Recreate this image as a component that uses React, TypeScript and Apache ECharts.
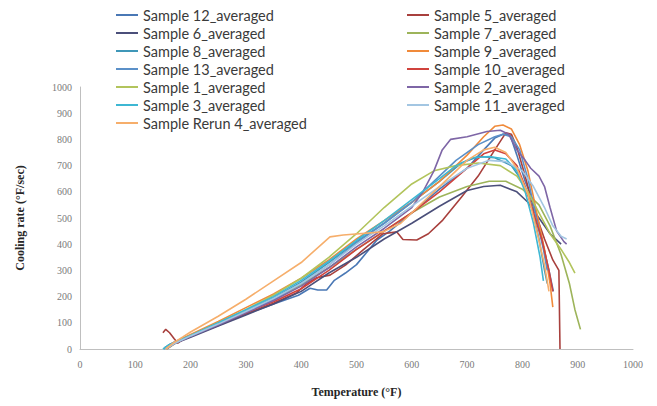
import React, { useEffect, useRef } from "react";
import * as echarts from "echarts";

const xTicks = [0, 100, 200, 300, 400, 500, 600, 700, 800, 900, 1000];
const yTicks = [0, 100, 200, 300, 400, 500, 600, 700, 800, 900, 1000];

const names = [
  "Sample 12_averaged", "Sample 5_averaged", "Sample 6_averaged", "Sample 7_averaged",
  "Sample 8_averaged", "Sample 9_averaged", "Sample 13_averaged", "Sample 10_averaged",
  "Sample 1_averaged", "Sample 2_averaged", "Sample 3_averaged", "Sample 11_averaged",
  "Sample Rerun 4_averaged",
];
const colors = [
  "#4A78B5", "#A8403D", "#4B4F7A", "#9DB45A", "#3F97B8", "#F08A3A", "#5B90C8",
  "#D0433D", "#B2C45C", "#7E66A6", "#3EB7D3", "#A3C6E2", "#F6AE6B",
];

const s12 = [[152,0],[160,15],[180,35],[200,52],[250,92],[300,133],[350,172],[395,205],[416,232],[430,225],[446,225],[460,262],[480,290],[500,322],[537,416],[560,450],[600,520],[650,610],[700,690],[730,760],[750,805],[765,820],[778,815],[790,740],[805,640],[820,560],[835,420],[848,300],[856,220]];
const s5 = [[150,62],[155,75],[162,62],[170,40],[177,22],[185,35],[200,50],[250,90],[300,135],[350,175],[392,215],[410,250],[428,272],[452,282],[480,320],[512,378],[548,440],[573,447],[584,418],[609,416],[630,440],[656,492],[690,580],[720,660],[750,760],[770,825],[780,820],[790,770],[805,660],[820,540],[840,420],[855,340],[866,300],[868,0]];
const s6 = [[155,5],[170,20],[200,45],[250,88],[300,130],[350,172],[400,220],[450,290],[500,350],[550,420],[600,480],[650,545],[700,605],[730,620],[760,625],[790,600],[810,560],[830,500],[850,440],[870,400]];
const s7 = [[157,0],[175,25],[200,50],[250,95],[300,142],[350,190],[400,245],[450,310],[500,380],[550,450],[600,520],[650,580],[700,620],[740,640],[770,640],[800,610],[830,550],[850,470],[870,360],[885,250],[895,150],[905,75]];
const s8 = [[153,5],[170,25],[200,52],[250,97],[300,145],[350,195],[400,255],[450,330],[500,410],[550,480],[600,560],[650,640],[690,710],[720,735],[750,730],[780,700],[800,640],[815,560],[830,420],[840,300],[845,250]];
const s9 = [[155,5],[170,25],[200,55],[250,105],[300,158],[350,210],[400,270],[450,340],[500,420],[550,490],[600,560],[650,640],[700,740],[730,810],[750,850],[765,855],[780,840],[795,780],[810,680],[825,530],[840,380],[850,250],[855,160]];
const s13 = [[152,0],[165,18],[200,50],[250,95],[300,142],[350,190],[400,250],[450,320],[500,405],[550,480],[600,560],[640,640],[680,720],[720,780],[750,810],[765,820],[780,810],[795,760],[810,650],[825,500],[838,380],[845,300]];
const s10 = [[156,0],[170,20],[200,50],[250,95],[300,140],[350,180],[400,230],[450,300],[500,380],[550,450],[600,520],[650,600],[700,690],[730,745],[750,760],[770,745],[790,700],[805,620],[820,520],[835,420],[848,300],[855,220]];
const s1 = [[155,0],[170,22],[200,52],[250,100],[300,150],[350,205],[400,270],[450,350],[500,440],[550,540],[600,630],[640,680],[680,700],[720,710],[760,700],[790,660],[810,600],[830,520],[850,440],[870,380],[885,330],[895,290]];
const s2 = [[155,0],[170,20],[200,48],[250,92],[300,138],[350,185],[400,240],[450,310],[500,390],[550,460],[600,540],[620,600],[640,680],[655,760],[670,800],[700,810],[736,830],[760,835],[775,820],[790,760],[805,720],[815,690],[830,660],[840,620],[850,540],[862,450],[875,410],[880,400]];
const s3 = [[150,0],[160,15],[200,52],[250,100],[300,150],[350,200],[400,262],[450,335],[500,415],[550,490],[600,570],[650,650],[680,700],[710,730],[740,735],[770,725],[790,680],[805,600],[820,480],[832,350],[838,260]];
const s11 = [[155,0],[170,20],[200,50],[250,95],[300,143],[350,193],[400,250],[450,320],[500,400],[550,470],[600,545],[650,620],[700,690],[740,720],[770,715],[800,680],[820,620],[840,540],[855,470],[870,430],[880,420]];
const s4r = [[155,0],[170,25],[186,46],[200,65],[250,125],[300,190],[350,260],[400,330],[452,428],[476,435],[548,447],[580,480],[620,560],[660,640],[700,720],[730,760],[750,770],[770,750],[790,690],[810,590],[825,460],[840,320],[848,220]];

const seriesData = [s12, s5, s6, s7, s8, s9, s13, s10, s1, s2, s3, s11, s4r];

const leftNames = [names[0], names[2], names[4], names[6], names[8], names[10], names[12]];
const rightNames = [names[1], names[3], names[5], names[7], names[9], names[11]];

export default function App() {
  const ref = useRef<HTMLDivElement>(null);
  useEffect(() => {
    const chart = echarts.init(ref.current!, undefined, { renderer: "svg" });
    const legendText = { fontFamily: "Lato", fontSize: 14.5, color: "#3a3a3a", lineHeight: 16 };
    chart.setOption({
      animation: false,
      backgroundColor: "#fff",
      color: colors,
      legend: [
        {
          data: leftNames, orient: "vertical", left: 116, top: 7, icon: "rect",
          itemWidth: 22, itemHeight: 2, itemGap: 2, textStyle: legendText, padding: 0,
          align: "left",
        },
        {
          data: rightNames, orient: "vertical", left: 407, top: 7, icon: "rect",
          itemWidth: 22, itemHeight: 2, itemGap: 2, textStyle: legendText, padding: 0,
          align: "left",
        },
      ],
      grid: { left: 80, right: 24, top: 87, bottom: 57, containLabel: false },
      xAxis: {
        type: "value", min: xTicks[0], max: xTicks[xTicks.length - 1], interval: 100,
        name: "Temperature (°F)", nameLocation: "middle", nameGap: 37,
        nameTextStyle: { fontFamily: "Liberation Serif", fontWeight: "bold", fontSize: 12, color: "#262626" },
        axisLine: { lineStyle: { color: "#BFBFBF" } },
        axisTick: { show: false },
        splitLine: { show: false },
        axisLabel: { fontFamily: "Liberation Serif", fontSize: 10, color: "#7a7a7a", margin: 10, formatter: (v: number) => String(v) },
      },
      yAxis: {
        type: "value", min: yTicks[0], max: yTicks[yTicks.length - 1], interval: 100,
        name: "Cooling rate (°F/sec)", nameLocation: "middle", nameGap: 54, nameRotate: 90,
        nameTextStyle: { fontFamily: "Liberation Serif", fontWeight: "bold", fontSize: 12, color: "#262626" },
        axisLine: { show: true, lineStyle: { color: "#BFBFBF" } },
        axisTick: { show: false },
        splitLine: { show: false },
        axisLabel: { fontFamily: "Liberation Serif", fontSize: 10, color: "#7a7a7a", margin: 8, formatter: (v: number) => String(v) },
      },
      series: seriesData.map((d, i) => ({
        name: names[i], type: "line", data: d, showSymbol: false, symbol: "none",
        lineStyle: { width: 1.6, color: colors[i] }, itemStyle: { color: colors[i] },
      })),
    });
    return () => chart.dispose();
  }, []);
  return <div ref={ref} style={{ width: 657, height: 406, position: "absolute", left: 0, top: 0 }} />;
}
